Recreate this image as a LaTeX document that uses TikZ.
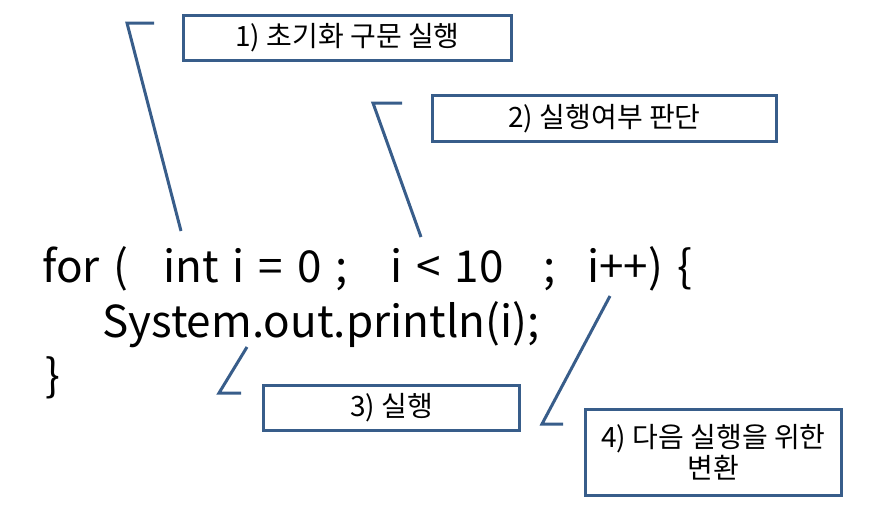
\documentclass[tikz,border=0pt]{standalone}
\usepackage{fontspec}
\setmainfont{Noto Sans CJK KR}
\usepackage{xcolor}
\usetikzlibrary{positioning}
\definecolor{CBlue}{RGB}{56,93,138}

\begin{document}
\begin{tikzpicture}[x=1pt,y=-1pt,
    notebox/.style={draw=CBlue, line width=3pt, fill=white, align=center,
      inner sep=0pt, font=\fontsize{28}{31}\selectfont},
    codetext/.style={anchor=base west, inner sep=0pt,
      font=\fontsize{44}{54}\selectfont,
      execute at begin node={\spaceskip=14pt\relax}},
    callout/.style={draw=CBlue, line width=3pt}
  ]
  \useasboundingbox (0,0) rectangle (881,523);

  % code
  \node[codetext] (forkw) at (42,282) {for (};
  \node[codetext] (init) at (163,282) {int i = 0 ;};
  \node[codetext] (cond) at (390,282) {i < 10};
  \node[codetext] (semi) at (543,282) {;};
  \node[codetext] (incr) at (587,282) {i++) \{};
  \node[codetext] (body) at (102,337) {System.out.println(i);};
  \node[codetext] (close) at (45,391) {\}};

  % boxes
  \node[notebox, minimum width=328, minimum height=45] (note1) at (347.5,38) {1) 초기화 구문 실행};
  \node[notebox, minimum width=344, minimum height=46] (note2) at (604.5,118.5) {2) 실행여부 판단};
  \node[notebox, minimum width=256, minimum height=45] (note3) at (391.5,408) {3) 실행};
  \node[notebox, minimum width=256, minimum height=86] (note4) at (713.5,452.5) {4) 다음 실행을 위한\\변환};

  % callout lines
  \coordinate (c1a) at (154,23);
  \coordinate (c1b) at (127,23);
  \coordinate (c1c) at (181,231);
  \coordinate (c2a) at (402,103);
  \coordinate (c2b) at (373,103);
  \coordinate (c2c) at (421,237);
  \coordinate (c3a) at (247,347);
  \coordinate (c3b) at (219,393);
  \coordinate (c3c) at (241,393);
  \coordinate (c4a) at (610,296);
  \coordinate (c4b) at (542,424);
  \coordinate (c4c) at (563,424);
  \draw[callout] (c1a) -- (c1b) -- (c1c);
  \draw[callout] (c2a) -- (c2b) -- (c2c);
  \draw[callout] (c3a) -- (c3b) -- (c3c);
  \draw[callout] (c4a) -- (c4b) -- (c4c);
\end{tikzpicture}
\end{document}
